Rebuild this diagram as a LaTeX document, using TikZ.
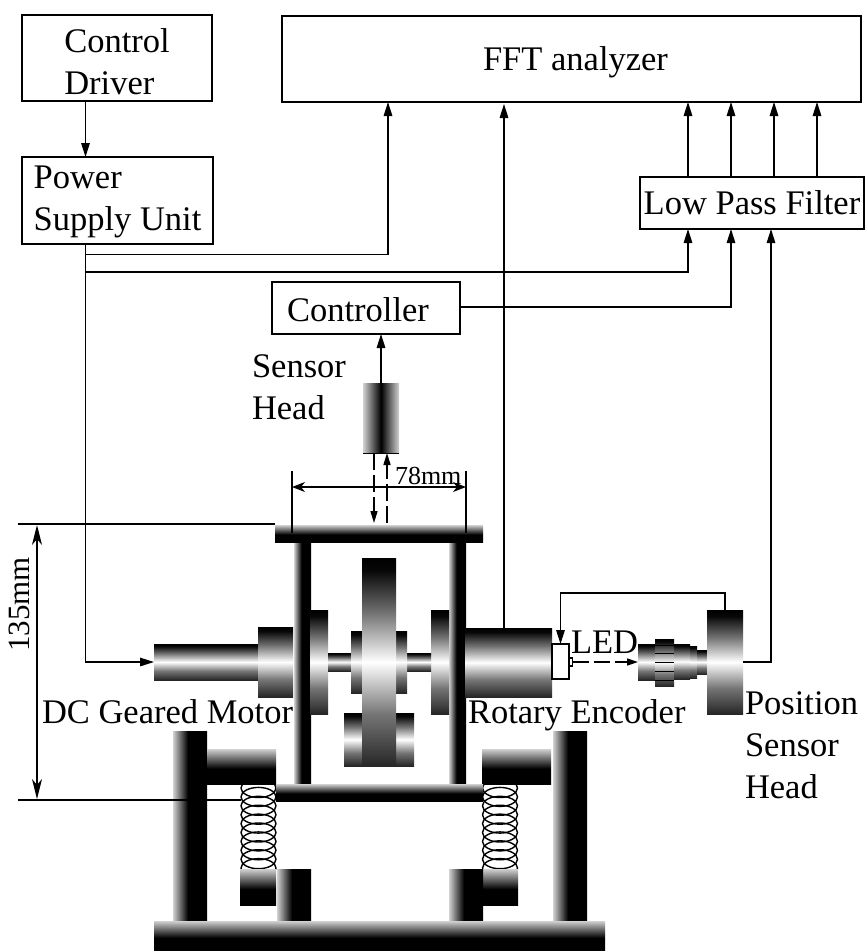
\documentclass[tikz,border=0pt]{standalone}
\usepackage{fontspec}
\setmainfont{Liberation Serif}
\usetikzlibrary{arrows.meta}
\definecolor{gA}{gray}{0.82}
\definecolor{gB}{gray}{0.15}
\definecolor{gC}{gray}{0.42}
\definecolor{gD}{gray}{0.46}
\definecolor{gE}{gray}{0.03}
% vertical: bottom -> top; the path occupies 25bp..75bp
\pgfdeclareverticalshading{bwb}{100bp}{color(0bp)=(gB);color(25bp)=(gB);color(37.5bp)=(gD);color(50bp)=(white);color(62.5bp)=(gC);color(72bp)=(gE);color(75bp)=(black);color(100bp)=(black)}
\pgfdeclareverticalshading{topfade}{100bp}{color(0bp)=(black);color(47bp)=(black);color(75bp)=(gA);color(100bp)=(gA)}
\pgfdeclarehorizontalshading{leftfade}{100bp}{color(0bp)=(gA);color(25bp)=(gA);color(47bp)=(black);color(100bp)=(black)}
\pgfdeclarehorizontalshading{headfade}{100bp}{color(0bp)=(gA);color(25bp)=(gA);color(50bp)=(black);color(75bp)=(gA);color(100bp)=(gA)}
\newcommand{\blk}[6]{\node[solid part,shading=#6,minimum width={(#4-#2)*1pt},minimum height={(#5-#3)*1pt}] (#1) at ({(#2+#4)/2},{(#3+#5)/2}) {};}
\tikzset{
  solid part/.style={rectangle,shade,shading angle=0,inner sep=0pt,outer sep=0pt,draw=none},
  frame box/.style={rectangle,draw=black,line width=1.5pt,fill=white,inner sep=0pt,outer sep=0pt,align=left},
  label text/.style={inner sep=0pt,outer sep=0pt,align=left},
  conn/.style={line width=1.5pt,draw=black},
  tip/.style={conn,-{Stealth[length=14pt,width=8.5pt,inset=0pt]}},
  dim/.style={line width=1.3pt,draw=black,{Stealth[length=13pt,width=10pt,inset=4pt]}-{Stealth[length=13pt,width=10pt,inset=4pt]}},
  longdim/.style={line width=1.3pt,draw=black,{Stealth[length=20pt,width=10pt,inset=6pt]}-{Stealth[length=20pt,width=10pt,inset=6pt]}},
  beam/.style={conn,dash pattern=on 17pt off 5pt,-{Stealth[length=12pt,width=7pt,inset=0pt]}},
  coil/.style={line width=1.4pt,draw=black},
}
\begin{document}
\begin{tikzpicture}[x=1pt,y=-1pt,font=\fontsize{34.5}{42}\selectfont]
\useasboundingbox (0,0) rectangle (865,951);
\fill[white] (0,0) rectangle (865,951);
% boxes
\node[frame box,minimum width=190pt,minimum height=86pt] (cd) at (117,58) {\rule{0pt}{32pt}Control\\Driver};
\node[frame box,minimum width=191pt,minimum height=87pt] (ps) at (117.5,200.5) {\rule{0pt}{26pt}Power\\Supply Unit};
\node[frame box,minimum width=579pt,minimum height=86pt] (fft) at (571.5,59) {\hspace*{8pt}\rule{0pt}{30pt}FFT analyzer};
\node[frame box,minimum width=224pt,minimum height=52pt] (lpf) at (752,203) {Low Pass Filter};
\node[frame box,minimum width=188pt,minimum height=52pt] (ctl) at (366,308) {\hspace*{-16pt}\rule{0pt}{28pt}Controller};
% x positions of the connectors
\coordinate (xp) at (85.5,0);
\coordinate (xf) at (388,0);
\coordinate (xe) at (504,0);
\coordinate (xa) at (688,0);
\coordinate (xb) at (731,0);
\coordinate (xc) at (774,0);
\coordinate (xd) at (817,0);
\coordinate (xg) at (771,0);
\coordinate (ya) at (0,254.5);
\coordinate (yb) at (0,272);
\coordinate (yc) at (0,307);
% springs
\foreach \cy in {788,796.9,805.8,814.7,823.6,832.5,841.4,850.3,859.2,868.1}{
  \draw[coil] (258.5,\cy) ellipse [x radius=17.5,y radius=9.5];
  \draw[coil] (500,\cy) ellipse [x radius=17.5,y radius=9.5];
}
% frame and mount
\blk{postl}{173}{731}{207}{921}{leftfade}
\blk{postr}{553}{731}{587}{921}{leftfade}
\blk{upl}{207}{749}{276}{784}{topfade}
\blk{upr}{482}{749}{551}{784}{topfade}
\blk{lowl}{240}{869}{276}{905}{topfade}
\blk{lowr}{482}{869}{518}{905}{topfade}
\blk{inl}{277}{869}{311}{921}{leftfade}
\blk{inr}{449}{869}{483}{921}{leftfade}
\blk{base}{154}{921}{605}{951}{topfade}
\blk{coll}{294}{542}{311}{783}{leftfade}
\blk{colr}{449}{542}{466}{783}{leftfade}
\blk{cross}{276}{784}{483}{801}{topfade}
\blk{plate}{275}{525}{483}{542}{topfade}
% rotor
\blk{shaft}{154}{644}{258}{680}{bwb}
\blk{flange}{258}{627}{293}{697}{bwb}
\blk{dl}{310}{610}{328}{714}{bwb}
\blk{dr}{431}{610}{449}{714}{bwb}
\blk{sl}{328}{653}{351}{671}{bwb}
\blk{sr}{407}{653}{431}{671}{bwb}
\blk{hl}{351}{631}{362}{693}{bwb}
\blk{hr}{396}{631}{407}{693}{bwb}
\blk{wgt}{344}{713}{414}{766}{bwb}
\blk{disc}{362}{558}{396}{766}{bwb}
\blk{enc}{465}{628}{552}{697}{bwb}
% position sensor
\blk{l1}{638}{644}{655}{680}{bwb}
\blk{l2}{655}{639}{674}{686}{bwb}
\blk{l3}{674}{644}{690}{679}{bwb}
\blk{l4}{690}{646}{697}{678}{bwb}
\blk{l5}{697}{650}{707}{674}{bwb}
\blk{pos}{707}{610}{743}{714}{bwb}
\foreach \ry in {645,653,662,671,680}{\draw[line width=1pt] (655,\ry) -- (674,\ry);}
% LED
\node[frame box,minimum width=17pt,minimum height=35pt] (led) at (560.5,661.5) {};
\node[frame box,line width=1.2pt,minimum width=3pt,minimum height=8pt] (ledtip) at (571,662) {};
% sensor head
\blk{head}{363}{383}{399}{453}{headfade}
\draw[line width=1pt] (head.south west) -- (head.south east);
% connectors
\draw[tip] (xp |- cd.south) -- (xp |- ps.north);
\draw[tip] (xp |- ps.south) |- (xf |- ya) -- (xf |- fft.south);
\draw[tip] (xp |- yb) -| (xa |- lpf.south);
\draw[tip] (ctl.east |- yc) -| (xb |- lpf.south);
\draw[tip] (enc.north -| xe) -- ([yshift=-2pt]xe |- fft.south);
\draw[tip] (xa |- lpf.north) -- (xa |- fft.south);
\draw[tip] (xb |- lpf.north) -- (xb |- fft.south);
\draw[tip] (xc |- lpf.north) -- (xc |- fft.south);
\draw[tip] (xd |- lpf.north) -- (xd |- fft.south);
\draw[tip] (xp |- ya) -- (xp |- shaft.west) -- (shaft.west);
\draw[tip] (pos.east) -| (xg |- lpf.south);
\draw[tip] (head.north) -- (head.north |- ctl.south);
\coordinate (wt) at (725,593);
\draw[tip] (pos.north -| wt) -- (wt) -| (led.north);
% measuring beams
\coordinate (bd) at (374,523);
\coordinate (bu) at (387,523);
\draw[beam] (bd |- head.south) -- (bd);
\draw[beam] (bu) -- (bu |- head.south);
\draw[beam,dash pattern=on 16pt off 5pt,-{Stealth[length=11pt,width=7pt,inset=0pt]}] (ledtip.east) -- (l1.west);
% dimensions
\coordinate (d1t) at (292,471); \coordinate (d1b) at (292,533);
\coordinate (d2t) at (466,471); \coordinate (d2b) at (466,533);
\draw[conn,line width=1.1pt] (d1t) -- (d1b);
\draw[conn,line width=1.1pt] (d2t) -- (d2b);
\draw[dim] (292,487) -- (466,487);
\coordinate (e1a) at (17.5,524); \coordinate (e2a) at (18,800);
\draw[conn] (e1a) -- (e1a -| plate.west);
\draw[conn] (e2a) -- (241,800);
\draw[longdim] (37,525) -- (37,799);
% labels
\node[label text,anchor=base west,font=\fontsize{26}{30}\selectfont] (l78) at (395,484) {78mm};
\node[label text,anchor=base,rotate=90,font=\fontsize{31}{36}\selectfont] (l135) at (29,604.5) {135mm};
\node[label text,anchor=base west] (lmot) at (42,723) {DC Geared Motor};
\node[label text,anchor=base west] (lenc) at (468,723) {Rotary Encoder};
\node[label text,anchor=base west] (lled) at (571,653) {LED};
\node[label text,anchor=north west] (lsh) at (252,355) {Sensor\\Head};
\node[label text,anchor=north west] (lpo) at (745,692) {Position\\Sensor\\Head};
\end{tikzpicture}
\end{document}
